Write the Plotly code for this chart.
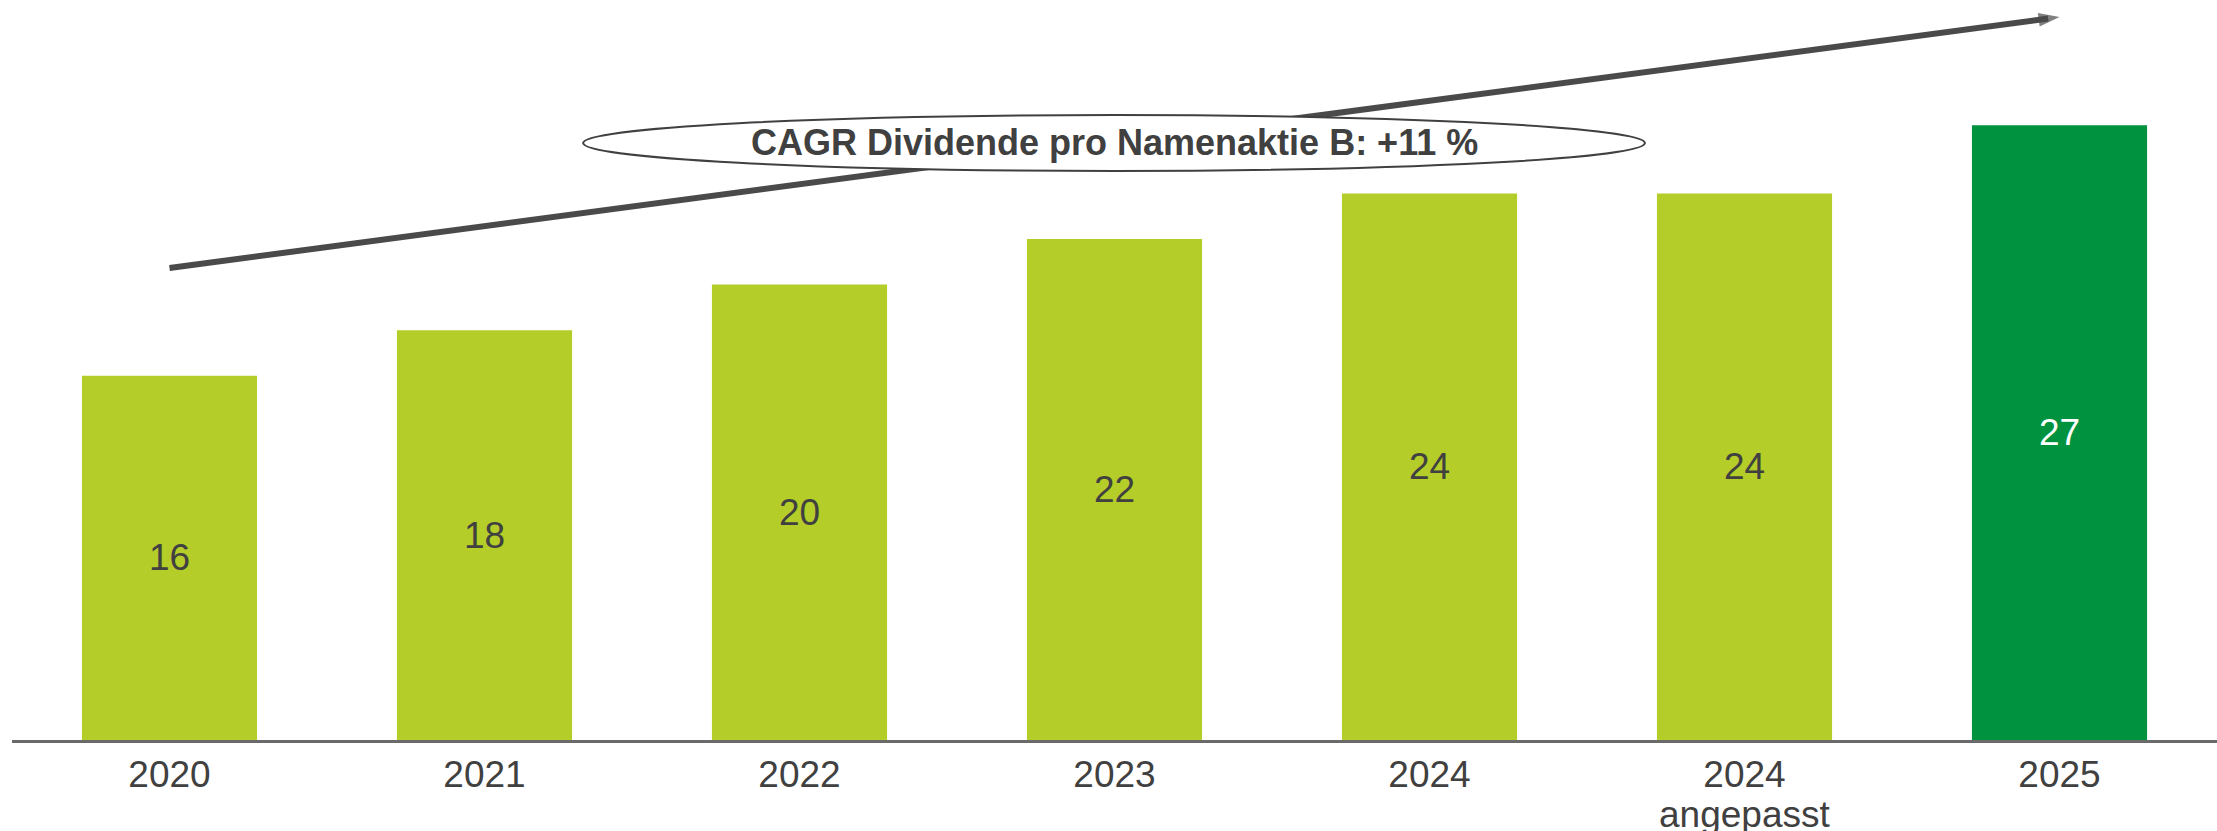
import plotly.graph_objects as go

categories = ["2020", "2021", "2022", "2023", "2024", "2024 angepasst", "2025"]
tick_labels = ["2020", "2021", "2022", "2023", "2024", "2024", "2025"]
tick_sublabel = ("2024 angepasst", "angepasst")   # (category, second line)
dividends = [16, 18, 20, 22, 24, 24, 27]
bar_colors = ["#B4CD29"] * 6 + ["#00923F"]
label_colors = ["#404040"] * 6 + ["#FFFFFF"]

cagr_text = "CAGR Dividende pro Namenaktie B: +11 %"
arrow_start = (0, 20.73)   # (category index, value)
arrow_end = (6, 31.75)

FONT = "Liberation Sans, Arial, sans-serif"
DARK = "#404040"

fig = go.Figure()
fig.add_trace(go.Bar(
    x=categories, y=dividends,
    marker=dict(color=bar_colors, line=dict(width=0)),
    text=[str(v) for v in dividends],
    textposition="inside", insidetextanchor="middle", textangle=0,
    textfont=dict(family=FONT, size=37, color=label_colors),
    constraintext="none", hoverinfo="skip", showlegend=False,
))

# trend arrow: shaft ends slightly before the tip so the head covers it
frac = 0.994
sx = arrow_start[0] + (arrow_end[0] - arrow_start[0]) * frac
sy = arrow_start[1] + (arrow_end[1] - arrow_start[1]) * frac
fig.add_trace(go.Scatter(
    x=[arrow_start[0], sx], y=[arrow_start[1], sy], xaxis="x2",
    mode="lines", line=dict(color="#4A4A4A", width=6),
    hoverinfo="skip", showlegend=False,
))
fig.add_trace(go.Scatter(
    x=[arrow_start[0], arrow_end[0]], y=[arrow_start[1], arrow_end[1]], xaxis="x2",
    mode="markers",
    marker=dict(symbol="arrow", angleref="previous", size=[0, 22],
                color="#4A4A4A", line=dict(width=0)),
    hoverinfo="skip", showlegend=False,
))

fig.add_shape(type="circle", xref="x2", yref="y",
              x0=1.313, x1=4.684, y0=24.99, y1=27.45,
              fillcolor="white", line=dict(color=DARK, width=2), layer="above")
fig.add_annotation(x=3.0, y=26.22, xref="x2", yref="y", text="<b>" + cagr_text + "</b>",
                   showarrow=False, font=dict(family=FONT, size=36, color=DARK))

# second line of the "2024 angepasst" tick label
fig.add_annotation(x=tick_sublabel[0], y=-0.101, xref="x", yref="paper",
                   text=tick_sublabel[1], showarrow=False, yanchor="middle",
                   font=dict(family=FONT, size=37, color=DARK))

fig.update_layout(
    width=2217, height=831,
    margin=dict(l=12, r=0, t=0, b=91),
    paper_bgcolor="white", plot_bgcolor="white",
    bargap=0.444,
    xaxis=dict(type="category", showline=True, linecolor="#6A6A6A", linewidth=3,
               ticks="", showgrid=False, zeroline=False, automargin=False,
               tickmode="array", tickvals=categories, ticktext=tick_labels,
               tickfont=dict(family=FONT, size=37, color=DARK)),
    xaxis2=dict(overlaying="x", range=[-0.5, 6.5], visible=False, automargin=False),
    yaxis=dict(range=[0, 32.5], visible=False, showgrid=False, zeroline=False,
               automargin=False),
)

fig.write_html("out.html", config={"displayModeBar": False},
               post_script="document.body.style.margin='0';document.body.style.overflow='hidden';")
